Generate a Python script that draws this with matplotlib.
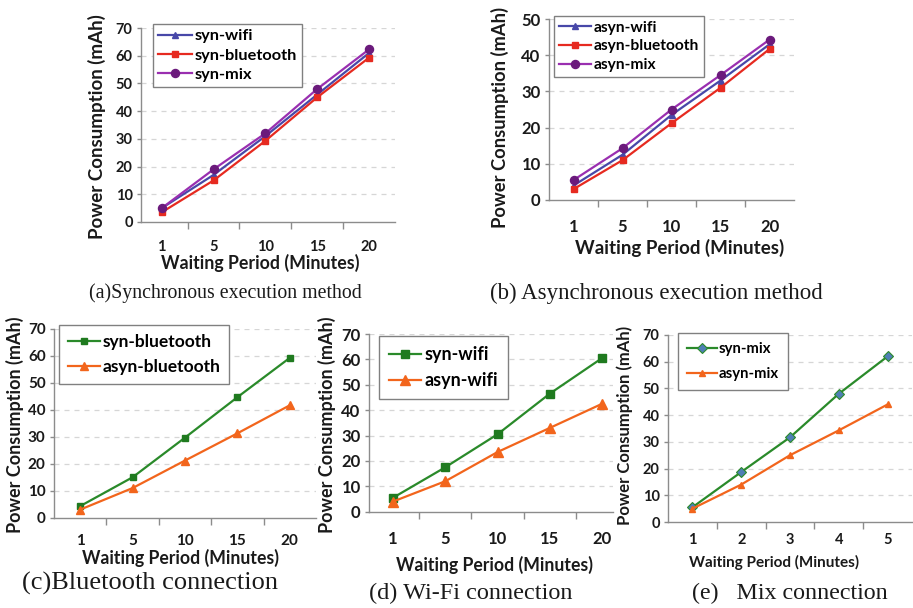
import matplotlib
matplotlib.use('Agg')
import matplotlib.pyplot as plt

W, H = 913, 608

# ---------------- data ----------------
minutes = ['1', '5', '10', '15', '20']
mix_minutes = ['1', '2', '3', '4', '5']

# (a) synchronous
syn_wifi = [5.0, 17.0, 31.0, 46.0, 61.0]
syn_bluetooth = [3.5, 15.0, 29.3, 45.0, 59.3]
syn_mix = [5.0, 19.0, 32.0, 48.0, 62.3]
# (b) asynchronous
asyn_wifi = [4.0, 12.5, 23.5, 33.0, 43.0]
asyn_bluetooth = [3.0, 11.0, 21.2, 31.0, 41.7]
asyn_mix = [5.5, 14.3, 25.0, 34.5, 44.3]
# (c) bluetooth
c_syn_bluetooth = [4.3, 15.0, 29.7, 44.7, 59.3]
c_asyn_bluetooth = [3.0, 11.0, 21.2, 31.3, 41.7]
# (d) wifi
d_syn_wifi = [5.5, 17.5, 30.5, 46.5, 60.5]
d_asyn_wifi = [4.0, 12.0, 23.5, 33.0, 42.5]
# (e) mix
e_syn_mix = [5.5, 18.7, 31.7, 48.0, 62.0]
e_asyn_mix = [5.0, 14.0, 25.0, 34.3, 44.0]

# ---------------- style ----------------
SANS = 'Lato'
SERIF = 'Liberation Serif'
plt.rcParams['font.family'] = [SANS, 'DejaVu Sans']

C_WIFI = '#4848a8'
C_BT = '#e62a20'
C_MIX = '#9a2fb0'
C_MIXM = '#6b1a7c'
C_GREEN = '#2a8a2a'
C_GREENM = '#1f7a1f'
C_ORANGE = '#f2651c'
C_DIAM = '#4f7fb5'
GRID = '#d6d6d6'
SPINE = '#8c8c8c'
TXT = '#1a1a1a'
LW = 1.6

fig = plt.figure(figsize=(W / 100, H / 100), dpi=100)


def add_axes(l, r, t, b):
    return fig.add_axes([l / W, 1 - b / H, (r - l) / W, (b - t) / H])


def style(ax, xlim, ymax, ystep, labels, tfs, xpad, ypad=3):
    ax.set_xlim(*xlim)
    ax.set_ylim(0, ymax)
    for s in ('top', 'right'):
        ax.spines[s].set_visible(False)
    for s in ('left', 'bottom'):
        ax.spines[s].set_color(SPINE)
        ax.spines[s].set_linewidth(1.0)
    yt = list(range(0, ymax + 1, ystep))
    ax.set_yticks(yt)
    for y in yt[1:]:
        ax.axhline(y, color=GRID, lw=0.9, ls=(0, (4, 4)), zorder=0)
    bounds = [i + 0.5 for i in range(len(labels) - 1)]
    ax.set_xticks(bounds)
    ax.set_xticklabels([])
    ax.set_xticks(range(len(labels)), minor=True)
    ax.set_xticklabels(labels, minor=True)
    ax.tick_params(axis='x', which='major', length=5, width=1, color=SPINE, direction='out')
    ax.tick_params(axis='x', which='minor', length=0, pad=xpad, labelsize=tfs, labelcolor=TXT)
    ax.tick_params(axis='y', length=3, width=1, color=SPINE, pad=ypad, labelsize=tfs, labelcolor=TXT)
    for lab in ax.get_xticklabels(minor=True) + ax.get_yticklabels():
        lab.set_fontweight('bold')


def labels(ax, box, xl_c, yl_c, xfs, yfs):
    l, r, t, b = box
    ax.set_xlabel('Waiting Period (Minutes)', fontsize=xfs, fontweight='bold', color=TXT, va='center')
    ax.set_ylabel('Power Consumption (mAh)', fontsize=yfs, fontweight='bold', color=TXT, va='center')
    ax.xaxis.set_label_coords((xl_c[0] - l) / (r - l), (b - xl_c[1]) / (b - t))
    ax.yaxis.set_label_coords((yl_c[0] - l) / (r - l), (b - yl_c[1]) / (b - t))


def legend(ax, x, y, fs, spacing, hl=2.0, bp=0.45):
    ax.legend(loc='upper left', bbox_to_anchor=(x / W, 1 - y / H), bbox_transform=fig.transFigure,
              frameon=True, fancybox=False, edgecolor='#808080', framealpha=1,
              prop={'family': SANS, 'weight': 'bold', 'size': fs},
              labelspacing=spacing, handlelength=hl, handletextpad=0.15,
              borderpad=bp, borderaxespad=0)
    ax.get_legend().get_frame().set_linewidth(1.0)


def caption(cx, cy, text, fs):
    fig.text(cx / W, 1 - cy / H, text, ha='center', va='center', family=SERIF, fontsize=fs, color=TXT)


x = range(5)

# ---------------- (a) ----------------
box = (141, 395, 28, 222)
ax = add_axes(*box)
style(ax, (-0.4, 4.5), 70, 10, minutes, 10.5, 13)
ax.plot(x, syn_wifi, color=C_WIFI, lw=LW, marker='^', ms=4.5, label='syn-wifi', zorder=3)
ax.plot(x, syn_bluetooth, color=C_BT, lw=LW, marker='s', ms=5, label='syn-bluetooth', zorder=3)
ax.plot(x, syn_mix, color=C_MIX, lw=LW, marker='o', ms=5.8, mfc=C_MIXM, mec=C_MIXM, label='syn-mix', zorder=4)
legend(ax, 153, 24, 11.8, 0.3, hl=2.1, bp=0.3)
labels(ax, box, (260, 263), (97, 127), 12.8, 13.5)
caption(225, 293, '(a)Synchronous execution method', 14.3)

# ---------------- (b) ----------------
box = (549, 794, 19, 200)
ax = add_axes(*box)
style(ax, (-0.5, 4.5), 50, 10, minutes, 12, 14)
ax.plot(x, asyn_wifi, color=C_WIFI, lw=LW, marker='^', ms=5, label='asyn-wifi', zorder=3)
ax.plot(x, asyn_bluetooth, color=C_BT, lw=LW, marker='s', ms=5, label='asyn-bluetooth', zorder=3)
ax.plot(x, asyn_mix, color=C_MIX, lw=LW, marker='o', ms=5.8, mfc=C_MIXM, mec=C_MIXM, label='asyn-mix', zorder=4)
legend(ax, 554, 16, 11.2, 0.3, hl=2.1, bp=0.3)
labels(ax, box, (680, 248), (500, 117), 13.5, 13.2)
caption(656, 293, '(b) Asynchronous execution method', 16.5)

# ---------------- (c) ----------------
box = (54, 316, 329, 517.7)
ax = add_axes(*box)
style(ax, (-0.5, 4.5), 70, 10, minutes, 11, 12)
ax.plot(x, c_syn_bluetooth, color=C_GREEN, lw=LW, marker='s', ms=5, mfc=C_GREENM, mec=C_GREENM,
        label='syn-bluetooth', zorder=3)
ax.plot(x, c_asyn_bluetooth, color=C_ORANGE, lw=LW, marker='^', ms=5.5, label='asyn-bluetooth', zorder=3)
legend(ax, 59, 325, 12.5, 0.55, hl=1.85, bp=0.5)
labels(ax, box, (181, 558), (15, 425), 12.7, 13)
caption(150, 583, '(c)Bluetooth connection', 19)

# ---------------- (d) ----------------
box = (369, 613, 334, 511.7)
ax = add_axes(*box)
style(ax, (-0.46, 4.21), 70, 10, minutes, 12, 14)
ax.plot(x, d_syn_wifi, color=C_GREEN, lw=LW, marker='s', ms=5.5, mfc=C_GREENM, mec=C_GREENM,
        label='syn-wifi', zorder=3)
ax.plot(x, d_asyn_wifi, color=C_ORANGE, lw=LW, marker='^', ms=7.5, label='asyn-wifi', zorder=3)
legend(ax, 379, 336, 13, 0.5, hl=1.8, bp=0.55)
labels(ax, box, (495, 565), (327, 425), 12.7, 13)
caption(471, 593, '(d) Wi-Fi connection', 17.5)

# ---------------- (e) ----------------
box = (668, 912, 335, 522)
ax = add_axes(*box)
style(ax, (-0.5, 4.5), 70, 10, mix_minutes, 10.5, 8)
ax.plot(x, e_syn_mix, color=C_GREEN, lw=LW, marker='D', ms=5, mfc=C_DIAM, mec=C_GREEN, mew=0.8,
        label='syn-mix', zorder=3)
ax.plot(x, e_asyn_mix, color=C_ORANGE, lw=LW, marker='^', ms=5, label='asyn-mix', zorder=3)
legend(ax, 678, 333, 10.7, 0.75, hl=2.0, bp=0.6)
labels(ax, box, (774, 562), (625, 425), 11, 12)
caption(790, 593, '(e)   Mix connection', 17.3)

fig.savefig('out.png', dpi=100)
